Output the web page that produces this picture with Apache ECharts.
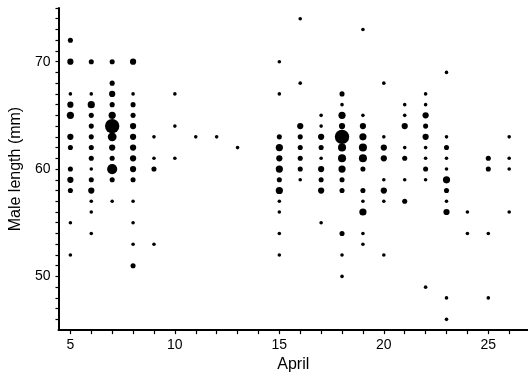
<!DOCTYPE html>
<html>
<head>
<meta charset="utf-8">
<script src="https://cdn.jsdelivr.net/npm/echarts@6/dist/echarts.min.js"></script>
<style>
html,body{margin:0;padding:0;background:#fff;}
#c{width:528px;height:378px;}
</style>
</head>
<body>
<div id="c"></div>
<script>
// Each entry: [male length (mm), number of males]
const day5  = [[72,2],[70,3],[67,1],[66,3],[65,4],[63,3],[62,2],[60,2],[59,3],[58,2],[55,1],[52,1]];
const day6  = [[70,2],[67,1],[66,4],[65,2],[64,2],[63,2],[62,2],[61,2],[60,1],[59,2],[58,3],[57,1],[56,1],[54,1]];
const day7  = [[70,2],[68,2],[67,3],[66,2],[65,4],[64,16],[63,6],[62,3],[61,2],[60,8],[59,2],[57,1]];
const day8  = [[70,3],[67,1],[66,2],[65,2],[64,3],[63,3],[62,3],[61,3],[60,3],[59,2],[57,1],[55,1],[53,1],[51,2]];
const day9  = [[63,1],[61,1],[60,2],[53,1]];
const day10 = [[67,1],[64,1],[61,1]];
const day11 = [[63,1]];
const day12 = [[63,1]];
const day13 = [[62,1]];
const day15 = [[70,1],[67,1],[63,2],[62,4],[61,3],[60,4],[59,2],[58,4],[57,1],[56,1],[54,1],[52,1]];
const day16 = [[74,1],[68,1],[64,3],[63,2],[62,2],[61,2],[60,2],[59,1]];
const day17 = [[65,1],[64,1],[63,3],[62,2],[61,1],[60,3],[59,2],[58,3],[55,1]];
const day18 = [[67,2],[66,1],[65,4],[64,3],[63,16],[62,5],[61,5],[60,4],[59,2],[58,2],[54,2],[52,1],[50,1]];
const day19 = [[73,1],[65,1],[64,3],[63,4],[62,5],[61,5],[60,2],[58,2],[57,1],[56,4],[54,1],[53,1]];
const day20 = [[68,1],[63,1],[62,3],[61,3],[59,1],[58,3],[57,1],[52,1]];
const day21 = [[66,1],[65,1],[64,3],[62,1],[61,2],[59,1],[57,2]];
const day22 = [[67,1],[66,1],[65,3],[64,2],[63,3],[62,1],[61,1],[60,2],[59,1],[49,1]];
const day23 = [[69,1],[63,1],[62,2],[61,1],[60,1],[59,4],[58,2],[57,1],[56,3],[48,1],[46,1]];
const day24 = [[56,1],[54,1]];
const day25 = [[61,2],[60,2],[54,1],[48,1]];
const day26 = [[63,1],[61,1],[60,1],[56,1]];

const days = [5,6,7,8,9,10,11,12,13,15,16,17,18,19,20,21,22,23,24,25,26];
const dayLists = [day5,day6,day7,day8,day9,day10,day11,day12,day13,day15,day16,day17,day18,day19,day20,day21,day22,day23,day24,day25,day26];

const xTickValues = [5,6,7,8,9,10,11,12,13,14,15,16,17,18,19,20,21,22,23,24,25,26];
const xLabelValues = [5,10,15,20,25];
const yTickValues = [46,47,48,49,50,51,52,53,54,55,56,57,58,59,60,61,62,63,64,65,66,67,68,69,70,71,72,73,74,75];
const yLabelValues = [50,60,70];

const points = [];
days.forEach((d, i) => {
  dayLists[i].forEach(p => points.push([d, p[0], p[1]]));
});

const chart = echarts.init(document.getElementById('c'), null, {renderer:'canvas'});
const font = 'Liberation Sans, Arial, sans-serif';
chart.setOption({
  animation: false,
  backgroundColor: '#fff',
  grid: {left: 53.5, right: 0, top: 8, bottom: 46, containLabel: false},
  xAxis: {
    type: 'value', min: 4.43, max: 26.9,
    name: 'April', nameLocation: 'middle', nameGap: 26,
    nameTextStyle: {fontFamily: font, fontSize: 16, color: '#000'},
    axisLine: {show: true, lineStyle: {color: '#000', width: 2}},
    axisTick: {show: true, customValues: xTickValues, length: 4, lineStyle: {color: '#000', width: 1.2}},
    axisLabel: {customValues: xLabelValues, margin: 8, fontFamily: font, fontSize: 14, color: '#000'},
    splitLine: {show: false}
  },
  yAxis: {
    type: 'value', min: 45, max: 75,
    name: 'Male length (mm)', nameLocation: 'middle', nameGap: 28, nameRotate: 90,
    nameTextStyle: {fontFamily: font, fontSize: 16, color: '#000'},
    axisLine: {show: true, lineStyle: {color: '#000', width: 2}},
    axisTick: {show: true, customValues: yTickValues, length: 3, lineStyle: {color: '#000', width: 1.2}},
    axisLabel: {customValues: yLabelValues, margin: 8, fontFamily: font, fontSize: 14, color: '#000'},
    splitLine: {show: false}
  },
  series: [{
    type: 'scatter',
    data: points,
    symbol: 'circle',
    symbolSize: v => 3.6 * Math.sqrt(v[2]),
    itemStyle: {color: '#000', opacity: 1},
    emphasis: {disabled: true}
  }]
});
</script>
</body>
</html>
